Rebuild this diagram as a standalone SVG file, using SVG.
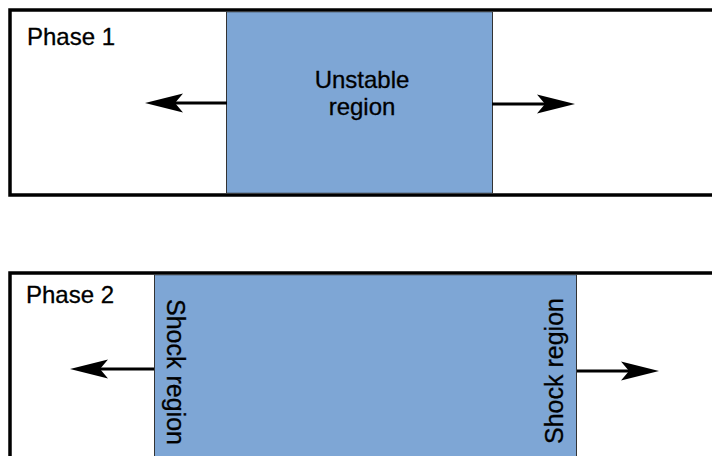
<svg xmlns="http://www.w3.org/2000/svg" width="712" height="456" viewBox="0 0 712 456">
  <style>
    .box { fill: #ffffff; stroke: #000000; stroke-width: 3.5; }
    .region { fill: #7EA6D5; stroke: #333333; stroke-width: 1; }
    .lbl { font-family: "Liberation Sans", Arial, Helvetica, sans-serif; font-size: 24px; fill: #000000; stroke: #000000; stroke-width: 0.3; }
    .vlbl { font-size: 25px; }
    .conn { stroke: #000000; stroke-width: 3; fill: none; marker-end: url(#arrow); }
  </style>
  <defs>
    <marker id="arrow" markerUnits="userSpaceOnUse" viewBox="0 -10 38 20" markerWidth="38" markerHeight="20" refX="8" refY="0" orient="auto">
      <path d="M0,-9.5 L38,0 L0,9.5 L8,0 Z" fill="#000000"/>
    </marker>
  </defs>
  <rect width="712" height="456" fill="#ffffff"/>

  <g id="phase1">
    <rect class="box" x="10" y="10" width="720" height="185"/>
    <text class="lbl" x="27" y="45">Phase 1</text>
  </g>
  <g id="unstable-region">
    <rect class="region" x="226.5" y="11.75" width="266" height="181.5"/>
    <text class="lbl" text-anchor="middle" x="362" y="88">Unstable</text>
    <text class="lbl" text-anchor="middle" x="362" y="115">region</text>
  </g>

  <g id="phase2">
    <rect class="box" x="10" y="273" width="720" height="200"/>
    <text class="lbl" x="26" y="303">Phase 2</text>
  </g>
  <g id="shock-region">
    <rect class="region" x="154.5" y="274.75" width="422" height="200"/>
    <text class="lbl vlbl" text-anchor="middle" transform="translate(167,372) rotate(90)">Shock region</text>
    <text class="lbl vlbl" text-anchor="middle" transform="translate(563,371) rotate(-90)">Shock region</text>
  </g>

  <g id="connectors">
    <path class="conn" d="M227,103 L175,103"/>
    <path class="conn" d="M492,104 L545,104"/>
    <path class="conn" d="M154,369 L100,369"/>
    <path class="conn" d="M577,371 L629,371"/>
  </g>
</svg>
